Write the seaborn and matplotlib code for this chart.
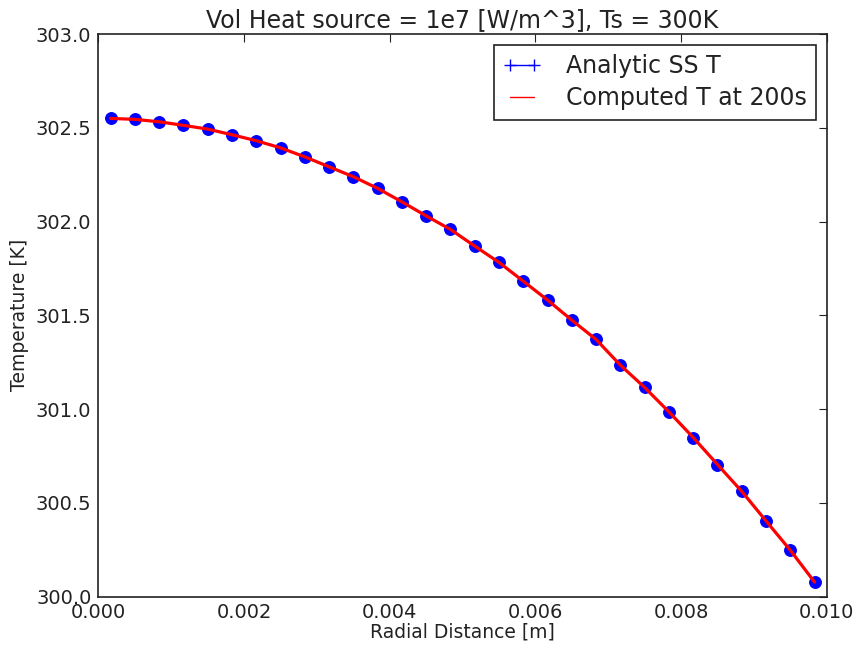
import matplotlib
matplotlib.use("Agg")
import matplotlib.pyplot as plt
from matplotlib.lines import Line2D
import seaborn as sns
import pandas as pd

# Radial cell centres [m]
radius = [0.000167, 0.000500, 0.000833, 0.001167, 0.001500, 0.001833,
          0.002167, 0.002500, 0.002833, 0.003167, 0.003500, 0.003833,
          0.004167, 0.004500, 0.004833, 0.005167, 0.005500, 0.005833,
          0.006167, 0.006500, 0.006833, 0.007167, 0.007500, 0.007833,
          0.008167, 0.008500, 0.008833, 0.009167, 0.009500, 0.009833]

# Analytic steady-state temperature [K]
analytic_T = [302.550, 302.545, 302.532, 302.513, 302.493, 302.463,
              302.431, 302.393, 302.345, 302.292, 302.239, 302.177,
              302.105, 302.030, 301.958, 301.869, 301.782, 301.682,
              301.581, 301.474, 301.371, 301.234, 301.115, 300.985,
              300.848, 300.704, 300.561, 300.403, 300.247, 300.077]

# Computed temperature at t = 200 s [K]
computed_T = [302.550, 302.545, 302.532, 302.513, 302.493, 302.463,
              302.431, 302.393, 302.345, 302.292, 302.239, 302.177,
              302.105, 302.030, 301.958, 301.869, 301.782, 301.682,
              301.581, 301.474, 301.371, 301.234, 301.115, 300.985,
              300.848, 300.704, 300.561, 300.403, 300.247, 300.077]

x_ticks = [0.000, 0.002, 0.004, 0.006, 0.008, 0.010]
y_ticks = [300.0, 300.5, 301.0, 301.5, 302.0, 302.5, 303.0]

df = pd.DataFrame({"r": radius, "analytic": analytic_T, "computed": computed_T})

sns.set_style("white")
plt.rcParams["font.family"] = ["DejaVu Sans"]

fig = plt.figure(figsize=(8.56, 6.47), dpi=100)
ax = fig.add_axes([0.115, 0.078, 0.8508, 0.8694])

sns.lineplot(data=df, x="r", y="analytic", ax=ax, color="#0000ff",
             linewidth=1.0, marker="o", markersize=8.5, markeredgecolor="#0000ff",
             markerfacecolor="#0000ff", sort=False)
sns.lineplot(data=df, x="r", y="computed", ax=ax, color="#ff0000",
             linewidth=2.3, sort=False)

ax.set_xlim(0.0, 0.010)
ax.set_ylim(300.0, 303.0)
ax.set_xticks(x_ticks)
ax.set_xticklabels([f"{v:.3f}" for v in x_ticks])
ax.set_yticks(y_ticks)
ax.set_yticklabels([f"{v:.1f}" for v in y_ticks])

ax.tick_params(direction="in", length=6, width=0.8, top=True, right=True,
               labelsize=14, colors="#222222", pad=5)
for s in ax.spines.values():
    s.set_visible(True)
    s.set_color("#222222")
    s.set_linewidth(1.2)

ax.set_xlabel("Radial Distance [m]", fontsize=13.5, color="#222222", labelpad=0)
ax.set_ylabel("Temperature [K]", fontsize=13.5, color="#222222", labelpad=5)
ax.set_title("Vol Heat source = 1e7 [W/m^3], Ts = 300K", fontsize=17,
             color="#222222", pad=5)

handles = [
    Line2D([0], [0], color="#0000ff", linewidth=1.0, marker="+",
           markersize=9, markeredgewidth=1.0),
    Line2D([0], [0], color="#ff0000", linewidth=1.0),
]
leg = ax.legend(handles, ["Analytic SS T", "Computed T at 200s"],
                loc="upper right", fontsize=17, numpoints=2, fancybox=False,
                framealpha=1.0, edgecolor="#222222", borderpad=0.4,
                handlelength=1.6, handletextpad=1.05, labelspacing=0.35,
                borderaxespad=0.45)
leg.get_frame().set_linewidth(1.2)
for t in leg.get_texts():
    t.set_color("#222222")

fig.savefig("out.png", dpi=100)
